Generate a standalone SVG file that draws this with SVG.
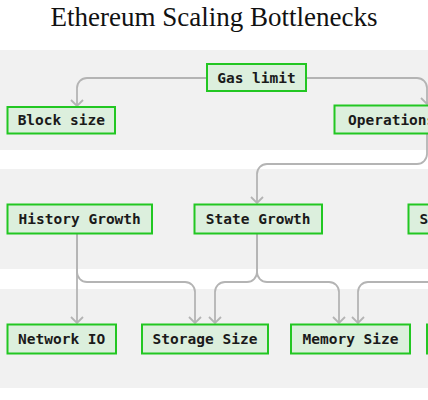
<svg xmlns="http://www.w3.org/2000/svg" width="428" height="400" viewBox="0 0 428 400">
<style>
.band{fill:#f1f1f1}
.node rect{fill:#dcefdd;stroke:#22c722;stroke-width:2}
.node text{font-family:"DejaVu Sans Mono","Liberation Mono",monospace;font-size:14.5px;font-weight:bold;fill:#1a1a1a}
.edge{fill:none;stroke:#b4b4b4;stroke-width:1.8;marker-end:url(#arr)}
.title{font-family:"Liberation Serif",serif;font-size:27px;fill:#111;text-anchor:middle}
</style>
<defs>
<marker id="arr" viewBox="0 0 8 14" refX="7" refY="7" markerWidth="8" markerHeight="14" markerUnits="userSpaceOnUse" orient="auto">
<path d="M1,1 L7,7 L1,13" fill="none" stroke="#b4b4b4" stroke-width="1.8"/>
</marker>
</defs>
<rect width="428" height="400" fill="#ffffff"/>
<text class="title" x="214" y="26">Ethereum Scaling Bottlenecks</text>
<g id="bands">
<rect class="band" x="0" y="50" width="428" height="100"/>
<rect class="band" x="0" y="169" width="428" height="100"/>
<rect class="band" x="0" y="289" width="428" height="99"/>
</g>
<g id="connectors">
<path class="edge" d="M207 78 H87 A10 10 0 0 0 77 88 V106"/>
<path class="edge" d="M306 78 H417 A10 10 0 0 1 427 88 V104"/>
<path class="edge" d="M427 134 V154 A10 10 0 0 1 417 164 H267 A10 10 0 0 0 257 174 V203"/>
<path class="edge" d="M77 234 V323"/>
<path class="edge" d="M77 234 V272 A10 10 0 0 0 87 282 H185 A10 10 0 0 1 195 292 V323"/>
<path class="edge" d="M257 234 V272 A10 10 0 0 1 247 282 H225 A10 10 0 0 0 215 292 V323"/>
<path class="edge" d="M257 234 V272 A10 10 0 0 0 267 282 H329 A10 10 0 0 1 339 292 V323"/>
<path class="edge" d="M440 282 H368 A10 10 0 0 0 358 292 V323"/>
</g>
<g id="gas-limit" class="node"><rect x="207" y="64" width="99" height="27"/><text x="256.5" y="82.5" text-anchor="middle">Gas limit</text></g>
<g id="block-size" class="node"><rect x="7.5" y="107" width="107.5" height="26.5"/><text x="61.3" y="125" text-anchor="middle">Block size</text></g>
<g id="operations" class="node"><rect x="334.5" y="105.5" width="120" height="28"/><text x="348" y="125">Operations</text></g>
<g id="history-growth" class="node"><rect x="7.5" y="204.5" width="144.5" height="29"/><text x="79.7" y="224" text-anchor="middle">History Growth</text></g>
<g id="state-growth" class="node"><rect x="194.5" y="204.5" width="127.5" height="29"/><text x="258.2" y="224" text-anchor="middle">State Growth</text></g>
<g id="s-node" class="node"><rect x="408.5" y="204.5" width="60" height="29"/><text x="419.5" y="224">S</text></g>
<g id="network-io" class="node"><rect x="7.5" y="324.5" width="108.5" height="29"/><text x="61.7" y="344" text-anchor="middle">Network IO</text></g>
<g id="storage-size" class="node"><rect x="142" y="324.5" width="126" height="29"/><text x="205" y="344" text-anchor="middle">Storage Size</text></g>
<g id="memory-size" class="node"><rect x="291" y="324.5" width="119" height="29"/><text x="350.5" y="344" text-anchor="middle">Memory Size</text></g>
<g id="right-node" class="node"><rect x="427" y="324.5" width="60" height="29"/></g>
</svg>
